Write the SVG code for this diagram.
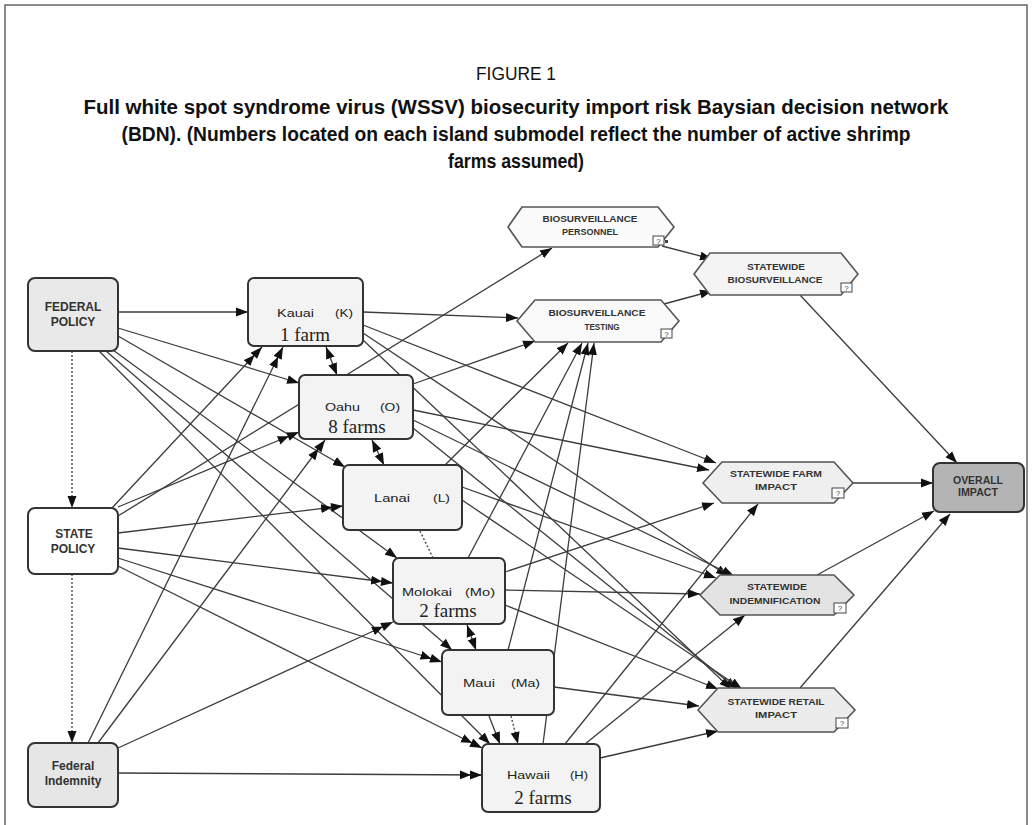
<svg xmlns="http://www.w3.org/2000/svg" width="1032" height="825" viewBox="0 0 1032 825">
  <style>
    .frame { fill: none; stroke: #666; stroke-width: 1.5; }
    .ttl { font-family: "Liberation Sans", Arial, sans-serif; fill: #111; text-anchor: middle; }
    .ttlb { font-weight: bold; font-size: 20px; }
    .e { stroke: #3c3c3c; stroke-width: 1.3; fill: none; }
    .dot { stroke-dasharray: 2 2; }
    .s1 { marker-end: url(#a1); }
    .s2 { marker-end: url(#a2); }
    .bi { marker-start: url(#a1r); marker-end: url(#a1); }
    .box { stroke: #333; stroke-width: 2; }
    .isl { fill: #f3f3f3; }
    .hex { stroke: #555; stroke-width: 1.6; }
    .lbl { font-family: "Liberation Sans", Arial, sans-serif; font-weight: bold; fill: #333; text-anchor: middle; }
    .big { font-size: 12px; }
    .sm { font-size: 9px; }
    .nm { font-family: "Liberation Sans", Arial, sans-serif; font-size: 11px; fill: #222; }
    .farm { font-family: "Liberation Serif", "Times New Roman", serif; font-size: 19px; fill: #222; }
    .q { fill: #fff; stroke: #444; stroke-width: 1; }
    .qt { font-family: "Liberation Sans", Arial, sans-serif; font-size: 8px; fill: #444; text-anchor: middle; }
  </style>
  <defs>
    <marker id="a1" viewBox="0 0 12 10" markerWidth="12" markerHeight="10" refX="12" refY="5" orient="auto" markerUnits="userSpaceOnUse">
      <path d="M0,0.5 L12,5 L0,9.5 z" fill="#111"/>
    </marker>
    <marker id="a1r" viewBox="0 0 12 10" markerWidth="12" markerHeight="10" refX="12" refY="5" orient="auto-start-reverse" markerUnits="userSpaceOnUse">
      <path d="M0,0.5 L12,5 L0,9.5 z" fill="#111"/>
    </marker>
    <marker id="a2" viewBox="0 0 22 10" markerWidth="22" markerHeight="10" refX="22" refY="5" orient="auto" markerUnits="userSpaceOnUse">
      <path d="M0,0.5 L11,5 L0,9.5 z M10,0.5 L22,5 L10,9.5 z" fill="#111"/>
    </marker>
  </defs>

  <rect width="1032" height="825" fill="#fff"/>
  <path class="frame" d="M5,825 V5 H1027 V825"/>

  <!-- caption -->
  <g id="caption">
    <text class="ttl" x="516" y="80" font-size="19" textLength="80" lengthAdjust="spacingAndGlyphs">FIGURE 1</text>
    <text class="ttl ttlb" x="516" y="114" textLength="865" lengthAdjust="spacingAndGlyphs">Full white spot syndrome virus (WSSV) biosecurity import risk Baysian decision network</text>
    <text class="ttl ttlb" x="516" y="141" textLength="789" lengthAdjust="spacingAndGlyphs">(BDN). (Numbers located on each island submodel reflect the number of active shrimp</text>
    <text class="ttl ttlb" x="516" y="168" textLength="136" lengthAdjust="spacingAndGlyphs">farms assumed)</text>
  </g>

  <!-- links -->
  <g id="connectors">
    <!-- policy chain -->
    <line class="e dot s1" x1="72" y1="351" x2="72" y2="508"/>
    <line class="e dot s1" x1="72" y1="574" x2="72" y2="743"/>

    <!-- federal policy to islands -->
    <line class="e s1" x1="118" y1="312" x2="248" y2="312"/>
    <line class="e s1" x1="118" y1="328" x2="299" y2="383"/>
    <line class="e s1" x1="118" y1="336" x2="345" y2="467"/>
    <line class="e s1" x1="113" y1="350" x2="397" y2="558"/>
    <line class="e s1" x1="106" y1="351" x2="452" y2="650"/>
    <line class="e s1" x1="99" y1="351" x2="490" y2="744"/>

    <!-- state policy -->
    <line class="e s2" x1="112" y1="508" x2="262" y2="347"/>
    <line class="e s2" x1="118" y1="507" x2="299" y2="432"/>
    <line class="e s1" x1="118" y1="516" x2="552" y2="248"/>
    <line class="e s2" x1="118" y1="533" x2="343" y2="506"/>
    <line class="e s2" x1="118" y1="548" x2="393" y2="583"/>
    <line class="e s2" x1="118" y1="558" x2="442" y2="662"/>
    <line class="e s2" x1="118" y1="566" x2="482" y2="748"/>

    <!-- federal indemnity -->
    <line class="e s2" x1="88" y1="743" x2="283" y2="347"/>
    <line class="e s2" x1="98" y1="743" x2="325" y2="440"/>
    <line class="e s2" x1="118" y1="748" x2="393" y2="622"/>
    <line class="e s2" x1="118" y1="773" x2="482" y2="775"/>

    <!-- between islands -->
    <line class="e bi" x1="326" y1="347" x2="337" y2="375"/>
    <line class="e bi" x1="372" y1="440" x2="384" y2="465"/>
    <line class="e dot" x1="420" y1="531" x2="433" y2="558"/>
    <line class="e bi" x1="467" y1="625" x2="476" y2="650"/>
    <line class="e s1" x1="489" y1="716" x2="500" y2="744"/>
    <line class="e dot s1" x1="511" y1="716" x2="518" y2="744"/>

    <!-- islands to biosurveillance testing -->
    <line class="e s1" x1="363" y1="312" x2="518" y2="318"/>
    <line class="e s1" x1="413" y1="384" x2="535" y2="341"/>
    <line class="e s1" x1="445" y1="465" x2="568" y2="343"/>
    <line class="e s1" x1="468" y1="558" x2="582" y2="343"/>
    <line class="e s1" x1="508" y1="650" x2="588" y2="343"/>
    <line class="e s1" x1="543" y1="744" x2="594" y2="343"/>

    <!-- islands to statewide farm impact -->
    <line class="e s1" x1="363" y1="325" x2="716" y2="463"/>
    <line class="e s1" x1="413" y1="410" x2="709" y2="470"/>
    <line class="e s1" x1="505" y1="572" x2="714" y2="503"/>
    <line class="e s1" x1="565" y1="744" x2="758" y2="504"/>

    <!-- islands to statewide indemnification -->
    <line class="e s1" x1="363" y1="333" x2="728" y2="576"/>
    <line class="e s1" x1="413" y1="420" x2="734" y2="576"/>
    <line class="e s1" x1="462" y1="487" x2="716" y2="578"/>
    <line class="e s1" x1="505" y1="590" x2="700" y2="594"/>
    <line class="e s1" x1="585" y1="744" x2="745" y2="615"/>

    <!-- islands to statewide retail impact -->
    <line class="e s1" x1="363" y1="340" x2="731" y2="689"/>
    <line class="e s1" x1="413" y1="428" x2="737" y2="689"/>
    <line class="e s1" x1="462" y1="500" x2="742" y2="689"/>
    <line class="e s1" x1="505" y1="605" x2="718" y2="689"/>
    <line class="e s1" x1="554" y1="687" x2="699" y2="706"/>
    <line class="e s1" x1="600" y1="758" x2="718" y2="731"/>

    <!-- statewide nodes -->
    <line class="e s1" x1="662" y1="246" x2="712" y2="259"/>
    <line class="e s1" x1="664" y1="304" x2="712" y2="291"/>
    <line class="e s1" x1="800" y1="295" x2="957" y2="463"/>
    <line class="e s1" x1="853" y1="483" x2="933" y2="483"/>
    <line class="e s1" x1="817" y1="575" x2="934" y2="511"/>
    <line class="e s1" x1="800" y1="688" x2="950" y2="514"/>
  </g>

  <!-- policy nodes -->
  <g id="federal-policy">
    <rect class="box" x="28" y="278" width="90" height="73" rx="7" fill="#e9e9e9"/>
    <text class="lbl big" x="73" y="311">FEDERAL</text>
    <text class="lbl big" x="73" y="326">POLICY</text>
  </g>
  <g id="state-policy">
    <rect class="box" x="28" y="508" width="90" height="66" rx="7" fill="#fff"/>
    <text class="lbl big" x="74" y="538">STATE</text>
    <text class="lbl big" x="73" y="553">POLICY</text>
  </g>
  <g id="federal-indemnity">
    <rect class="box" x="28" y="743" width="90" height="64" rx="7" fill="#e6e6e6"/>
    <text class="lbl big" x="73" y="770">Federal</text>
    <text class="lbl big" x="73" y="785">Indemnity</text>
  </g>

  <!-- island submodels -->
  <g id="kauai">
    <rect class="box isl" x="248" y="278" width="115" height="68" rx="6"/>
    <text class="nm" x="277" y="317" textLength="37" lengthAdjust="spacingAndGlyphs">Kauai</text>
    <text class="nm" x="335" y="317" textLength="18" lengthAdjust="spacingAndGlyphs">(K)</text>
    <text class="farm" x="305" y="341" text-anchor="middle">1 farm</text>
  </g>
  <g id="oahu">
    <rect class="box isl" x="299" y="375" width="114" height="64" rx="6"/>
    <text class="nm" x="325" y="411" textLength="35" lengthAdjust="spacingAndGlyphs">Oahu</text>
    <text class="nm" x="380" y="411" textLength="20" lengthAdjust="spacingAndGlyphs">(O)</text>
    <text class="farm" x="357" y="433" text-anchor="middle">8 farms</text>
  </g>
  <g id="lanai">
    <rect class="box isl" x="343" y="465" width="119" height="65" rx="6"/>
    <text class="nm" x="374" y="502" textLength="36" lengthAdjust="spacingAndGlyphs">Lanai</text>
    <text class="nm" x="433" y="502" textLength="17" lengthAdjust="spacingAndGlyphs">(L)</text>
  </g>
  <g id="molokai">
    <rect class="box isl" x="393" y="558" width="112" height="66" rx="6"/>
    <text class="nm" x="402" y="596" textLength="50" lengthAdjust="spacingAndGlyphs">Molokai</text>
    <text class="nm" x="465" y="596" textLength="30" lengthAdjust="spacingAndGlyphs">(Mo)</text>
    <text class="farm" x="448" y="617" text-anchor="middle">2 farms</text>
  </g>
  <g id="maui">
    <rect class="box isl" x="442" y="650" width="112" height="65" rx="6"/>
    <text class="nm" x="463" y="687" textLength="32" lengthAdjust="spacingAndGlyphs">Maui</text>
    <text class="nm" x="511" y="687" textLength="29" lengthAdjust="spacingAndGlyphs">(Ma)</text>
  </g>
  <g id="hawaii">
    <rect class="box isl" x="482" y="744" width="118" height="68" rx="6"/>
    <text class="nm" x="507" y="779" textLength="43" lengthAdjust="spacingAndGlyphs">Hawaii</text>
    <text class="nm" x="570" y="779" textLength="18" lengthAdjust="spacingAndGlyphs">(H)</text>
    <text class="farm" x="543" y="804" text-anchor="middle">2 farms</text>
  </g>

  <!-- statewide nodes -->
  <g id="biosurveillance-personnel">
    <polygon class="hex" points="508,227 522,207 658,207 674,227 658,247 522,247" fill="#fbfbfb"/>
    <text class="lbl sm" x="590" y="222" textLength="95" lengthAdjust="spacingAndGlyphs">BIOSURVEILLANCE</text>
    <text class="lbl sm" x="590" y="235" textLength="56" lengthAdjust="spacingAndGlyphs">PERSONNEL</text>
    <rect class="q" x="653" y="236" width="11" height="9"/>
    <text class="qt" x="658.5" y="244">?</text>
    <rect x="665" y="240" width="3" height="3" fill="#444"/>
  </g>
  <g id="biosurveillance-testing">
    <polygon class="hex" points="517,321 535,300 661,300 679,321 661,342 535,342" fill="#f9f9f9"/>
    <text class="lbl sm" x="597" y="316" textLength="97" lengthAdjust="spacingAndGlyphs">BIOSURVEILLANCE</text>
    <text class="lbl sm" x="602" y="330" textLength="35" lengthAdjust="spacingAndGlyphs">TESTING</text>
    <rect class="q" x="661" y="329" width="11" height="9"/>
    <text class="qt" x="666.5" y="337">?</text>
  </g>
  <g id="statewide-biosurveillance">
    <polygon class="hex" points="694,274 710,253 841,253 858,274 841,295 710,295" fill="#f4f4f4"/>
    <text class="lbl sm" x="776" y="270" textLength="58" lengthAdjust="spacingAndGlyphs">STATEWIDE</text>
    <text class="lbl sm" x="775" y="283" textLength="95" lengthAdjust="spacingAndGlyphs">BIOSURVEILLANCE</text>
    <rect class="q" x="841" y="283" width="11" height="9"/>
    <text class="qt" x="846.5" y="291">?</text>
  </g>
  <g id="statewide-farm-impact">
    <polygon class="hex" points="703,483 722,462 834,462 853,483 834,503 722,503" fill="#efefef"/>
    <text class="lbl sm" x="776" y="477" textLength="92" lengthAdjust="spacingAndGlyphs">STATEWIDE FARM</text>
    <text class="lbl sm" x="776" y="490" textLength="42" lengthAdjust="spacingAndGlyphs">IMPACT</text>
    <rect class="q" x="832" y="488" width="12" height="10"/>
    <text class="qt" x="838" y="496">?</text>
  </g>
  <g id="statewide-indemnification">
    <polygon class="hex" points="700,595 720,575 834,575 854,595 834,615 720,615" fill="#e3e3e3"/>
    <text class="lbl sm" x="777" y="590" textLength="60" lengthAdjust="spacingAndGlyphs">STATEWIDE</text>
    <text class="lbl sm" x="775" y="604" textLength="91" lengthAdjust="spacingAndGlyphs">INDEMNIFICATION</text>
    <rect class="q" x="834" y="603" width="12" height="10"/>
    <text class="qt" x="840" y="611">?</text>
  </g>
  <g id="statewide-retail-impact">
    <polygon class="hex" points="698,710 718,688 834,688 855,710 834,732 718,732" fill="#ececec"/>
    <text class="lbl sm" x="776" y="705" textLength="97" lengthAdjust="spacingAndGlyphs">STATEWIDE RETAIL</text>
    <text class="lbl sm" x="776" y="718" textLength="42" lengthAdjust="spacingAndGlyphs">IMPACT</text>
    <rect class="q" x="836" y="718" width="12" height="10"/>
    <text class="qt" x="842" y="726">?</text>
  </g>
  <g id="overall-impact">
    <rect class="box" x="933" y="463" width="91" height="49" rx="7" fill="#b4b4b4"/>
    <text class="lbl" font-size="10" x="978" y="484" textLength="50" lengthAdjust="spacingAndGlyphs">OVERALL</text>
    <text class="lbl" font-size="10" x="978" y="496" textLength="40" lengthAdjust="spacingAndGlyphs">IMPACT</text>
  </g>
</svg>
